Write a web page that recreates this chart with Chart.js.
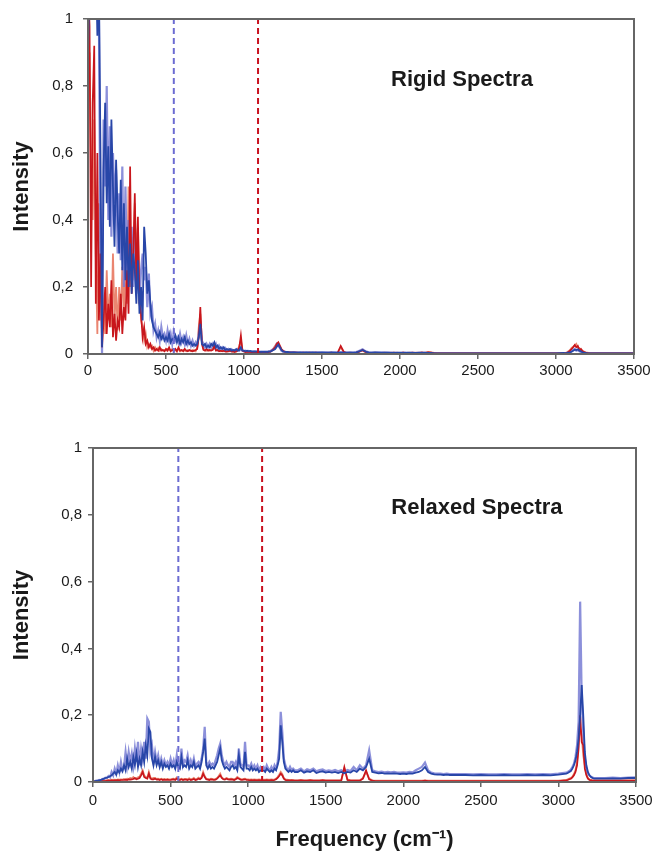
<!DOCTYPE html>
<html>
<head>
<meta charset="utf-8">
<script src="https://cdn.jsdelivr.net/npm/chart.js@4.4.0/dist/chart.umd.min.js"></script>
<style>
  html, body { margin: 0; padding: 0; background: #ffffff; }
  #wrap { position: relative; width: 653px; height: 857px; }
  #c1 { position: absolute; left: 0; top: 0; }
  #c2 { position: absolute; left: 0; top: 400px; }
</style>
</head>
<body>
<div id="wrap">
  <canvas id="c1" width="653" height="385"></canvas>
  <canvas id="c2" width="653" height="457"></canvas>
</div>
<script>
// ---------- DATA ----------
const frequency = [
  0,10,20,30,40,50,60,70,80,90,
  100,110,120,130,140,150,160,170,180,190,
  200,210,220,230,240,250,260,270,280,290,
  300,310,320,330,340,350,360,370,380,390,
  400,410,420,430,440,450,460,470,480,490,
  500,510,520,530,540,550,560,570,580,590,
  600,610,620,630,640,650,660,670,680,690,
  700,710,720,730,740,750,760,770,780,790,
  800,810,820,830,840,850,860,870,880,890,
  900,910,920,930,940,950,960,970,980,990,
  1000,1010,1020,1030,1040,1050,1060,1070,1080,1090,
  1100,1110,1120,1130,1140,1150,1160,1170,1180,1190,
  1200,1210,1220,1230,1240,1250,1260,1270,1280,1290,
  1300,
  1320,1340,1360,1380,1400,1420,1440,1460,1480,1500,
  1520,1540,1560,1580,1600,1620,1640,1660,1680,1700,
  1720,1740,1760,1780,1800,1820,1840,1860,1880,1900,
  1920,1940,1960,1980,2000,2020,2040,2060,2080,2100,
  2120,2140,2160,2180,2200,2220,2240,2260,2280,2300,
  2350,2400,2450,2500,2550,2600,2650,2700,2750,2800,
  2850,2900,2950,3000,3050,
  3060,3070,3080,3090,3100,3110,3120,3130,3140,3150,
  3160,3170,3180,3190,3200,3210,3220,3230,3240,3250,
  3300,3350,3400,3450,3500
];

// Rigid spectra
const rigidBlueDark = [
  0.9,1.1,1.2,1.1,1.05,1.2,0.95,1.1,0.6,0.02,
  0.55,0.75,0.45,0.62,0.38,0.7,0.5,0.32,0.58,0.42,
  0.3,0.52,0.25,0.45,0.22,0.38,0.2,0.33,0.18,0.3,
  0.25,0.15,0.28,0.12,0.2,0.1,0.38,0.3,0.18,0.22,
  0.15,0.1,0.08,0.07,0.06,0.05,0.065,0.045,0.055,0.04,
  0.05,0.04,0.06,0.035,0.045,0.04,0.055,0.035,0.05,0.03,
  0.045,0.035,0.05,0.03,0.04,0.03,0.035,0.025,0.03,0.025,
  0.03,0.05,0.09,0.03,0.025,0.03,0.02,0.025,0.02,0.03,
  0.025,0.035,0.02,0.025,0.015,0.02,0.015,0.02,0.012,0.015,
  0.012,0.015,0.01,0.012,0.01,0.015,0.01,0.012,0.02,0.01,
  0.01,0.008,0.01,0.008,0.009,0.007,0.008,0.007,0.008,0.006,
  0.007,0.006,0.007,0.006,0.007,0.006,0.008,0.007,0.01,0.012,
  0.015,0.022,0.028,0.02,0.012,0.008,0.007,0.006,0.006,0.005,
  0.005,
  0.005,0.004,0.005,0.004,0.005,0.004,0.005,0.004,0.004,0.005,
  0.004,0.004,0.005,0.004,0.004,0.005,0.004,0.004,0.004,0.004,
  0.005,0.008,0.012,0.007,0.004,0.004,0.005,0.004,0.004,0.004,
  0.004,0.003,0.004,0.003,0.004,0.003,0.003,0.004,0.003,0.003,
  0.003,0.004,0.003,0.003,0.003,0.002,0.002,0.002,0.002,0.002,
  0.002,0.002,0.002,0.002,0.002,0.002,0.002,0.002,0.002,0.002,
  0.002,0.002,0.002,0.002,0.003,
  0.002,0.003,0.004,0.005,0.007,0.01,0.013,0.012,0.014,0.01,
  0.008,0.005,0.004,0.003,0.002,0.002,0.002,0.002,0.002,0.002,
  0.002,0.002,0.002,0.002,0.002
];
const rigidBlueLight = [
  1.2,1.15,1.2,1.2,1.1,1.15,1.2,1.0,0.3,0.0,
  0.7,0.5,0.8,0.4,0.68,0.35,0.6,0.45,0.55,0.3,
  0.48,0.28,0.56,0.2,0.5,0.25,0.4,0.22,0.38,0.2,
  0.36,0.18,0.3,0.15,0.25,0.3,0.22,0.26,0.14,0.24,
  0.12,0.14,0.07,0.09,0.05,0.07,0.04,0.08,0.05,0.06,
  0.04,0.07,0.04,0.06,0.03,0.065,0.04,0.05,0.035,0.06,
  0.035,0.05,0.03,0.055,0.03,0.045,0.025,0.04,0.025,0.035,
  0.025,0.06,0.1,0.04,0.03,0.02,0.03,0.02,0.03,0.02,
  0.03,0.02,0.03,0.015,0.025,0.015,0.02,0.012,0.018,0.012,
  0.015,0.01,0.014,0.01,0.012,0.01,0.014,0.01,0.015,0.01,
  0.008,0.01,0.007,0.009,0.007,0.008,0.006,0.008,0.006,0.007,
  0.006,0.007,0.006,0.007,0.006,0.007,0.007,0.009,0.012,0.015,
  0.02,0.03,0.025,0.018,0.01,0.007,0.006,0.006,0.005,0.005,
  0.005,
  0.006,0.005,0.004,0.005,0.004,0.005,0.004,0.005,0.005,0.004,
  0.005,0.004,0.004,0.005,0.004,0.004,0.005,0.004,0.005,0.004,
  0.006,0.01,0.014,0.008,0.005,0.004,0.004,0.005,0.004,0.004,
  0.004,0.004,0.003,0.004,0.003,0.004,0.004,0.003,0.004,0.003,
  0.004,0.003,0.004,0.003,0.003,0.003,0.002,0.002,0.002,0.002,
  0.002,0.002,0.002,0.002,0.002,0.002,0.002,0.002,0.002,0.002,
  0.002,0.002,0.002,0.002,0.002,
  0.002,0.003,0.005,0.006,0.008,0.012,0.015,0.01,0.012,0.008,
  0.006,0.004,0.003,0.002,0.002,0.002,0.002,0.002,0.002,0.002,
  0.002,0.002,0.002,0.002,0.002
];
const rigidRedDark = [
  1.1,0.98,0.2,0.75,0.92,0.15,0.6,0.1,0.3,0.02,
  0.1,0.2,0.06,0.15,0.08,0.22,0.05,0.12,0.04,0.1,
  0.08,0.18,0.06,0.14,0.1,0.25,0.12,0.56,0.18,0.3,
  0.48,0.2,0.41,0.15,0.12,0.05,0.08,0.03,0.04,0.02,
  0.03,0.015,0.02,0.01,0.015,0.01,0.02,0.01,0.012,0.008,
  0.015,0.01,0.02,0.008,0.012,0.01,0.015,0.008,0.02,0.01,
  0.012,0.008,0.015,0.01,0.008,0.012,0.01,0.008,0.01,0.012,
  0.015,0.05,0.14,0.03,0.012,0.01,0.015,0.01,0.012,0.01,
  0.012,0.025,0.01,0.012,0.008,0.01,0.008,0.01,0.007,0.008,
  0.008,0.01,0.007,0.008,0.006,0.008,0.01,0.02,0.055,0.01,
  0.008,0.006,0.007,0.006,0.006,0.005,0.006,0.005,0.006,0.005,
  0.005,0.006,0.005,0.005,0.006,0.005,0.006,0.007,0.01,0.015,
  0.02,0.03,0.035,0.025,0.015,0.01,0.007,0.006,0.005,0.005,
  0.004,
  0.004,0.004,0.003,0.004,0.003,0.004,0.003,0.004,0.003,0.003,
  0.003,0.003,0.004,0.003,0.003,0.024,0.006,0.003,0.003,0.003,
  0.004,0.007,0.012,0.006,0.003,0.003,0.003,0.003,0.003,0.003,
  0.003,0.003,0.004,0.003,0.003,0.004,0.003,0.003,0.004,0.003,
  0.003,0.004,0.003,0.005,0.004,0.002,0.002,0.002,0.002,0.002,
  0.002,0.002,0.002,0.002,0.002,0.002,0.002,0.002,0.002,0.002,
  0.002,0.002,0.002,0.002,0.002,
  0.002,0.004,0.006,0.01,0.015,0.02,0.027,0.02,0.024,0.012,
  0.015,0.008,0.006,0.004,0.003,0.002,0.002,0.002,0.002,0.002,
  0.002,0.002,0.002,0.002,0.002
];
const rigidRedLight = [
  0.85,0.9,0.55,0.4,0.7,0.3,0.06,0.45,0.1,0.2,
  0.15,0.06,0.25,0.1,0.18,0.08,0.3,0.1,0.2,0.07,
  0.2,0.1,0.26,0.12,0.3,0.15,0.5,0.2,0.35,0.22,
  0.45,0.3,0.38,0.2,0.1,0.08,0.04,0.06,0.02,0.03,
  0.02,0.025,0.01,0.02,0.012,0.018,0.01,0.015,0.01,0.012,
  0.01,0.015,0.012,0.01,0.015,0.008,0.012,0.01,0.015,0.008,
  0.01,0.012,0.01,0.008,0.012,0.01,0.008,0.012,0.01,0.008,
  0.02,0.08,0.12,0.04,0.015,0.012,0.01,0.012,0.01,0.012,
  0.015,0.03,0.012,0.01,0.01,0.008,0.01,0.008,0.01,0.007,
  0.01,0.008,0.009,0.007,0.008,0.007,0.012,0.025,0.04,0.012,
  0.007,0.006,0.006,0.006,0.005,0.006,0.005,0.005,0.005,0.005,
  0.006,0.005,0.006,0.005,0.005,0.006,0.007,0.008,0.012,0.018,
  0.025,0.032,0.03,0.02,0.012,0.008,0.006,0.005,0.005,0.004,
  0.004,
  0.004,0.003,0.004,0.003,0.004,0.003,0.004,0.003,0.004,0.003,
  0.003,0.004,0.003,0.003,0.004,0.02,0.005,0.003,0.004,0.003,
  0.004,0.008,0.01,0.005,0.003,0.003,0.004,0.003,0.003,0.004,
  0.003,0.004,0.003,0.004,0.003,0.004,0.003,0.004,0.003,0.004,
  0.004,0.005,0.004,0.006,0.005,0.003,0.002,0.002,0.002,0.002,
  0.002,0.002,0.002,0.002,0.002,0.002,0.002,0.002,0.002,0.002,
  0.002,0.002,0.002,0.002,0.002,
  0.003,0.005,0.008,0.012,0.018,0.022,0.025,0.03,0.02,0.018,
  0.012,0.01,0.007,0.005,0.004,0.003,0.002,0.002,0.002,0.002,
  0.002,0.002,0.002,0.002,0.002
];

// Relaxed spectra
const relaxedBlueDark = [
  0.0,0.002,0.003,0.004,0.005,0.006,0.008,0.01,0.012,0.013,
  0.015,0.017,0.02,0.025,0.03,0.022,0.035,0.028,0.04,0.032,
  0.05,0.035,0.07,0.045,0.06,0.04,0.075,0.05,0.085,0.045,
  0.07,0.05,0.09,0.06,0.11,0.08,0.16,0.15,0.07,0.05,
  0.075,0.05,0.065,0.045,0.06,0.04,0.055,0.045,0.05,0.04,
  0.055,0.045,0.05,0.04,0.06,0.045,0.04,0.075,0.045,0.05,
  0.045,0.065,0.04,0.05,0.045,0.06,0.04,0.045,0.05,0.04,
  0.06,0.09,0.13,0.05,0.04,0.05,0.04,0.045,0.04,0.05,
  0.06,0.08,0.1,0.065,0.05,0.04,0.045,0.04,0.035,0.045,
  0.05,0.04,0.045,0.035,0.08,0.045,0.04,0.035,0.09,0.04,
  0.04,0.035,0.045,0.035,0.04,0.035,0.04,0.03,0.035,0.035,
  0.035,0.03,0.04,0.035,0.03,0.035,0.03,0.04,0.035,0.05,
  0.07,0.17,0.12,0.06,0.04,0.035,0.03,0.035,0.03,0.035,
  0.03,
  0.03,0.035,0.028,0.032,0.03,0.035,0.027,0.03,0.032,0.028,
  0.03,0.028,0.03,0.027,0.03,0.026,0.03,0.028,0.035,0.03,
  0.04,0.035,0.045,0.07,0.03,0.028,0.026,0.027,0.025,0.026,
  0.025,0.026,0.025,0.024,0.025,0.024,0.026,0.025,0.028,0.03,
  0.035,0.045,0.03,0.025,0.023,0.022,0.022,0.021,0.022,0.021,
  0.021,0.021,0.02,0.021,0.02,0.02,0.021,0.02,0.02,0.021,
  0.02,0.021,0.02,0.022,0.025,
  0.027,0.03,0.033,0.04,0.05,0.065,0.09,0.13,0.2,0.29,
  0.2,0.09,0.05,0.03,0.02,0.015,0.012,0.01,0.01,0.01,
  0.01,0.011,0.01,0.012,0.012
];
const relaxedBlueLight = [
  0.0,0.002,0.004,0.003,0.006,0.005,0.009,0.008,0.013,0.012,
  0.018,0.014,0.03,0.02,0.04,0.025,0.05,0.03,0.06,0.035,
  0.045,0.09,0.05,0.09,0.06,0.085,0.05,0.1,0.06,0.12,
  0.05,0.1,0.07,0.12,0.07,0.19,0.18,0.09,0.11,0.06,
  0.09,0.06,0.08,0.05,0.07,0.05,0.065,0.05,0.06,0.05,
  0.07,0.05,0.065,0.045,0.08,0.05,0.045,0.1,0.05,0.065,
  0.06,0.08,0.05,0.065,0.05,0.07,0.045,0.055,0.06,0.05,
  0.07,0.1,0.165,0.06,0.05,0.06,0.05,0.055,0.05,0.065,
  0.08,0.1,0.115,0.08,0.06,0.05,0.06,0.05,0.045,0.06,
  0.06,0.05,0.06,0.045,0.1,0.055,0.05,0.045,0.12,0.05,
  0.05,0.045,0.055,0.04,0.05,0.04,0.05,0.035,0.045,0.04,
  0.045,0.035,0.05,0.04,0.035,0.045,0.035,0.05,0.04,0.06,
  0.1,0.21,0.15,0.07,0.05,0.04,0.035,0.045,0.035,0.04,
  0.035,
  0.035,0.04,0.032,0.038,0.035,0.04,0.032,0.036,0.038,0.033,
  0.035,0.033,0.036,0.032,0.035,0.03,0.036,0.033,0.045,0.035,
  0.05,0.04,0.05,0.095,0.035,0.032,0.03,0.031,0.029,0.03,
  0.029,0.03,0.028,0.028,0.029,0.028,0.03,0.029,0.035,0.04,
  0.045,0.058,0.035,0.028,0.026,0.025,0.025,0.024,0.025,0.024,
  0.024,0.024,0.023,0.024,0.023,0.023,0.024,0.023,0.023,0.024,
  0.023,0.024,0.023,0.025,0.028,
  0.03,0.033,0.037,0.045,0.055,0.075,0.11,0.18,0.54,0.25,
  0.15,0.07,0.04,0.025,0.02,0.016,0.013,0.012,0.012,0.012,
  0.012,0.013,0.012,0.013,0.014
];
const relaxedRedDark = [
  0.0,0.001,0.001,0.002,0.002,0.002,0.003,0.003,0.003,0.004,
  0.004,0.004,0.005,0.004,0.005,0.005,0.006,0.005,0.006,0.006,
  0.006,0.007,0.006,0.008,0.007,0.008,0.009,0.012,0.008,0.01,
  0.012,0.02,0.03,0.015,0.012,0.01,0.025,0.01,0.008,0.008,
  0.01,0.007,0.008,0.006,0.008,0.006,0.007,0.006,0.007,0.006,
  0.006,0.007,0.008,0.006,0.01,0.007,0.006,0.008,0.006,0.007,
  0.007,0.006,0.008,0.006,0.007,0.009,0.006,0.007,0.01,0.008,
  0.012,0.025,0.015,0.008,0.007,0.006,0.008,0.007,0.006,0.007,
  0.01,0.015,0.02,0.012,0.008,0.007,0.01,0.008,0.007,0.008,
  0.007,0.006,0.008,0.012,0.01,0.007,0.006,0.007,0.008,0.006,
  0.006,0.005,0.006,0.005,0.006,0.005,0.005,0.006,0.005,0.005,
  0.005,0.005,0.006,0.005,0.005,0.006,0.005,0.006,0.008,0.012,
  0.018,0.025,0.02,0.01,0.006,0.005,0.005,0.004,0.005,0.004,
  0.004,
  0.004,0.005,0.004,0.004,0.005,0.004,0.004,0.004,0.005,0.004,
  0.004,0.004,0.004,0.004,0.004,0.045,0.006,0.004,0.004,0.004,
  0.004,0.01,0.035,0.008,0.004,0.003,0.003,0.003,0.003,0.003,
  0.003,0.003,0.003,0.003,0.003,0.003,0.003,0.003,0.003,0.003,
  0.003,0.004,0.003,0.003,0.003,0.003,0.003,0.003,0.003,0.003,
  0.003,0.003,0.003,0.003,0.003,0.003,0.003,0.003,0.003,0.003,
  0.003,0.003,0.003,0.003,0.005,
  0.006,0.008,0.01,0.014,0.02,0.03,0.05,0.1,0.2,0.12,
  0.11,0.04,0.02,0.01,0.006,0.005,0.004,0.004,0.004,0.004,
  0.004,0.004,0.004,0.004,0.004
];
const relaxedRedLight = [
  0.0,0.002,0.002,0.003,0.003,0.003,0.004,0.004,0.005,0.005,
  0.006,0.005,0.007,0.006,0.007,0.006,0.008,0.007,0.008,0.007,
  0.009,0.008,0.01,0.009,0.012,0.01,0.015,0.01,0.012,0.014,
  0.016,0.025,0.035,0.02,0.015,0.012,0.03,0.014,0.01,0.012,
  0.012,0.009,0.01,0.008,0.01,0.008,0.009,0.008,0.009,0.008,
  0.008,0.009,0.01,0.008,0.014,0.009,0.008,0.01,0.008,0.009,
  0.009,0.008,0.011,0.008,0.009,0.012,0.008,0.009,0.013,0.01,
  0.015,0.03,0.018,0.01,0.009,0.008,0.01,0.009,0.008,0.009,
  0.012,0.018,0.025,0.014,0.01,0.009,0.012,0.01,0.009,0.01,
  0.009,0.008,0.01,0.015,0.012,0.009,0.008,0.009,0.01,0.008,
  0.008,0.007,0.008,0.007,0.008,0.007,0.007,0.008,0.007,0.007,
  0.007,0.007,0.008,0.007,0.007,0.008,0.007,0.008,0.01,0.015,
  0.022,0.03,0.024,0.012,0.008,0.007,0.006,0.006,0.006,0.006,
  0.005,
  0.005,0.006,0.005,0.005,0.006,0.005,0.005,0.005,0.006,0.005,
  0.005,0.005,0.005,0.005,0.005,0.04,0.008,0.005,0.005,0.005,
  0.005,0.012,0.03,0.01,0.005,0.004,0.004,0.004,0.004,0.004,
  0.004,0.004,0.004,0.004,0.004,0.004,0.004,0.004,0.004,0.004,
  0.004,0.005,0.004,0.004,0.004,0.004,0.004,0.004,0.004,0.004,
  0.004,0.004,0.004,0.004,0.004,0.004,0.004,0.004,0.004,0.004,
  0.004,0.004,0.004,0.004,0.006,
  0.008,0.01,0.012,0.016,0.024,0.035,0.06,0.12,0.16,0.14,
  0.08,0.05,0.025,0.012,0.008,0.006,0.005,0.005,0.005,0.005,
  0.005,0.005,0.005,0.005,0.005
];

// Dashed reference frequencies (blue, red)
const markerFrequencies = [550, 1090];
const xTickLabels = ['0', '500', '1000', '1500', '2000', '2500', '3000', '3500'];
const yTickLabels = ['0', '0,2', '0,4', '0,6', '0,8', '1'];
const panelTitles = ['Rigid Spectra', 'Relaxed Spectra'];
const xAxisTitle = 'Frequency (cm\u207B\u00B9)';
const yAxisTitle = 'Intensity';

// ---------- STYLE ----------
const COL = {
  blueDark: '#2846a8',
  blueLight: 'rgba(120,124,212,0.85)',
  redDark: '#c8161c',
  redLight: 'rgba(232,120,96,0.9)',
  blueDash: '#6c6cd2',
  redDash: '#c8101e',
  frame: '#666666',
  text: '#1a1a1a'
};
const FONT = '"Liberation Sans", Arial, Helvetica, sans-serif';

function pts(vals) { return frequency.map((f, i) => ({ x: f, y: vals[i] })); }
function vline(f) { return [{ x: f, y: 0 }, { x: f, y: 1 }]; }

const framePlugin = {
  id: 'frameAndLabel',
  afterDatasetsDraw(chart, args, opts) {
    const a = chart.chartArea, ctx = chart.ctx;
    ctx.save();
    ctx.strokeStyle = COL.frame;
    ctx.lineWidth = 2;
    ctx.strokeRect(a.left, a.top, a.right - a.left, a.bottom - a.top);
    ctx.fillStyle = COL.text;
    ctx.font = 'bold 22px ' + FONT;
    ctx.textAlign = 'center';
    ctx.textBaseline = 'middle';
    ctx.fillText(opts.text, a.left + (a.right - a.left) * opts.fx, a.top + (a.bottom - a.top) * opts.fy);
    ctx.restore();
  }
};

function makeChart(canvasId, blueDark, blueLight, redDark, redLight, cfg) {
  const datasets = [
    { data: vline(markerFrequencies[1]), borderColor: COL.redDash, borderWidth: 2, borderDash: [6, 4] },
    { data: vline(markerFrequencies[0]), borderColor: COL.blueDash, borderWidth: 2, borderDash: [6, 4] },
    { data: pts(blueDark), borderColor: COL.blueDark, borderWidth: 1.8 },
    { data: pts(redDark), borderColor: COL.redDark, borderWidth: 1.7 },
    { data: pts(blueLight), borderColor: COL.blueLight, borderWidth: 2.2 },
    { data: pts(redLight), borderColor: COL.redLight, borderWidth: 1.8 }
  ];
  datasets.forEach(d => { d.pointRadius = 0; d.fill = false; d.tension = 0; });
  return new Chart(document.getElementById(canvasId), {
    type: 'line',
    data: { datasets },
    plugins: [framePlugin],
    options: {
      responsive: false,
      animation: false,
      devicePixelRatio: 1,
      layout: { padding: { left: 0, top: cfg.padTop, right: cfg.padRight, bottom: 0 } },
      plugins: {
        legend: { display: false },
        tooltip: { enabled: false },
        frameAndLabel: { text: cfg.title, fx: cfg.fx, fy: cfg.fy }
      },
      scales: {
        x: {
          type: 'linear', min: 0, max: 3500,
          ticks: { stepSize: 500, color: COL.text, font: { family: FONT, size: 15 }, padding: cfg.xPad, maxRotation: 0,
                   callback: (v, i) => xTickLabels[i] },
          grid: { display: true, drawOnChartArea: false, drawTicks: true, tickLength: 5, color: COL.frame, lineWidth: 1.5 },
          border: { display: true, color: COL.frame, width: 2 },
          title: cfg.xTitle ? { display: true, text: xAxisTitle, color: COL.text, font: { family: FONT, size: 22, weight: 'bold' }, padding: { top: 0, bottom: 4 } } : { display: false },
          afterFit(scale) { scale.height = cfg.xHeight; scale.paddingRight = 0; scale.paddingLeft = 0; }
        },
        y: {
          min: 0, max: 1,
          ticks: { stepSize: 0.2, color: COL.text, font: { family: FONT, size: 15 }, padding: cfg.yPad,
                   callback: (v, i) => yTickLabels[i] },
          grid: { display: true, drawOnChartArea: false, drawTicks: true, tickLength: 5, color: COL.frame, lineWidth: 1.5 },
          border: { display: true, color: COL.frame, width: 2 },
          title: { display: true, text: yAxisTitle, color: COL.text, font: { family: FONT, size: 22, weight: 'bold' }, padding: { top: 9, bottom: 0 } },
          afterFit(scale) { scale.width = cfg.yWidth; scale.paddingTop = 0; scale.paddingBottom = 0; }
        }
      }
    }
  });
}

makeChart('c1', rigidBlueDark, rigidBlueLight, rigidRedDark, rigidRedLight,
  { title: panelTitles[0], fx: 0.685, fy: 0.182, padTop: 19, padRight: 19, xHeight: 31, yWidth: 88, xPad: 3, yPad: 10, xTitle: false });
makeChart('c2', relaxedBlueDark, relaxedBlueLight, relaxedRedDark, relaxedRedLight,
  { title: panelTitles[1], fx: 0.707, fy: 0.18, padTop: 48, padRight: 17, xHeight: 75, yWidth: 93, xPad: 5, yPad: 6, xTitle: true });
</script>
</body>
</html>
